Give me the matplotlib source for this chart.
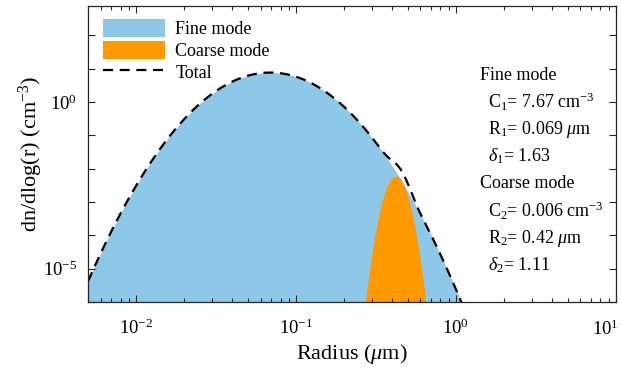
import numpy as np
import matplotlib
matplotlib.use('Agg')
from matplotlib import pyplot as plt
from matplotlib.patches import Patch
from matplotlib.lines import Line2D
from matplotlib.ticker import LogLocator, NullFormatter, FixedFormatter, FixedLocator

plt.rcParams['font.family'] = ['Liberation Serif', 'DejaVu Serif']
plt.rcParams['mathtext.fontset'] = 'custom'
plt.rcParams['mathtext.rm'] = 'Liberation Serif'
plt.rcParams['mathtext.it'] = 'Liberation Serif:italic'

# mode parameters shown on the chart
fine_C, fine_R, fine_delta = 7.67, 0.069, 1.63
coarse_C, coarse_R, coarse_delta = 0.006, 0.42, 1.11

xlim = (0.005, 10)
ylim = (1e-6, 10 ** 2.88)
xtick_vals = [1e-2, 1e-1, 1e0, 1e1]
xtick_labels = ['$10^{-2}$', '$10^{-1}$', '$10^{0}$', '$10^{1}$']
ytick_vals = [1e-6, 1e-5, 1e-4, 1e-3, 1e-2, 1e-1, 1e0, 1e1, 1e2]
ytick_labels = ['', '$10^{-5}$', '', '', '', '', '$10^{0}$', '', '']

blue = '#8ec8e8'
orange = '#ff9900'


def mode(r, C, R, delta):
    return C * np.exp(-np.log(r / R) ** 2 / (2 * np.log(delta) ** 2))


r = np.logspace(np.log10(xlim[0]), np.log10(xlim[1]), 2000)
fine = mode(r, fine_C, fine_R, fine_delta)
coarse = mode(r, coarse_C, coarse_R, coarse_delta)
total = fine + coarse

fig = plt.figure(figsize=(6.21, 3.69), dpi=100)
ax = fig.add_axes([0.1417, 0.1816, 0.850, 0.802])

ax.fill_between(r, ylim[0], np.maximum(fine, ylim[0]), color=blue, lw=0)
ax.fill_between(r, ylim[0], np.maximum(coarse, ylim[0]), color=orange, lw=0)
ax.plot(r, total, 'k--', lw=1.6, dashes=(4.5, 3))

ax.set_xscale('log')
ax.set_yscale('log')
ax.set_xlim(*xlim)
ax.set_ylim(*ylim)

# last x label is drawn by hand so it stays inside the figure
ax.xaxis.set_major_locator(FixedLocator(xtick_vals))
ax.xaxis.set_major_formatter(FixedFormatter(xtick_labels[:-1] + ['']))
ax.yaxis.set_major_locator(FixedLocator(ytick_vals))
ax.yaxis.set_major_formatter(FixedFormatter(ytick_labels))
ax.yaxis.set_minor_locator(FixedLocator([]))
ax.xaxis.set_minor_locator(LogLocator(base=10, subs=np.arange(2, 10)))
ax.xaxis.set_minor_formatter(NullFormatter())

ax.tick_params(which='both', direction='in', top=True, right=True,
               labelsize=13.5, colors='#262626', labelcolor='black')
ax.tick_params(which='major', length=5, width=0.8, pad=8)
ax.tick_params(axis='x', which='major', pad=12)
ax.tick_params(which='minor', length=3, width=0.8)
for s in ax.spines.values():
    s.set_color('#262626')
    s.set_linewidth(0.9)

ax.text(619 / 621, 1 - 327 / 369, xtick_labels[-1], transform=fig.transFigure,
        fontsize=13.5, ha='right', va='center_baseline')

ax.set_xlabel(r'Radius ($\mu$m)', fontsize=16, labelpad=3)
ax.set_ylabel(r'dn/dlog(r) (cm$^{-3}$)', fontsize=16, labelpad=-2)

handles = [Patch(facecolor=blue, edgecolor='none', label='Fine mode'),
           Patch(facecolor=orange, edgecolor='none', label='Coarse mode'),
           Line2D([], [], color='k', ls='--', lw=1.6, dashes=(4.5, 3), label='Total')]
ax.legend(handles=handles, loc='upper left', frameon=False, fontsize=13,
          handlelength=3.4, handleheight=1.2, labelspacing=0.15,
          handletextpad=0.6, borderaxespad=0.3, bbox_to_anchor=(0.005, 1.0))

lines = [('Fine mode', 0.0),
         (r'C$_1$= 7.67 cm$^{-3}$', 1),
         (r'R$_1$= 0.069 $\mu$m', 1),
         (r'$\delta_1$= 1.63', 1),
         ('Coarse mode', 0.0),
         (r'C$_2$= 0.006 cm$^{-3}$', 1),
         (r'R$_2$= 0.42 $\mu$m', 1),
         (r'$\delta_2$= 1.11', 1)]
y0 = 75
for i, (txt, ind) in enumerate(lines):
    ypix = y0 + i * 27.2
    fig.text((480 + 8 * ind) / 621, 1 - ypix / 369, txt, fontsize=13,
             va='center', ha='left')

fig.savefig('out.png', dpi=100)
plt.close(fig)
